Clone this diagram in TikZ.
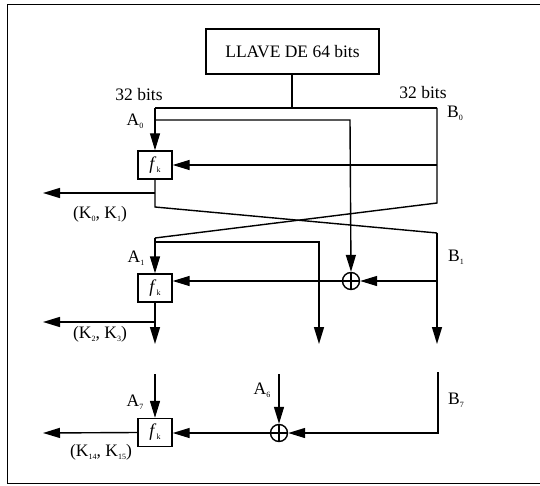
\documentclass[tikz,border=0pt]{standalone}
\usepackage{fontspec}
\setmainfont{Liberation Serif}
\usetikzlibrary{arrows.meta}
\newcommand\mysub[1]{\raisebox{-0.35ex}{\fontsize{8}{8}\selectfont #1}}
\begin{document}
\begin{tikzpicture}[x=1pt,y=-1pt, line width=1.4pt,
  arr/.style={-{Triangle[length=17pt,width=10pt]}},
  fbox/.style={draw, minimum width=34pt, minimum height=28pt, inner sep=0pt, font=\fontsize{18}{20}\selectfont},
  xor/.style={draw, circle, minimum size=17pt, inner sep=0pt},
  lbl/.style={font=\fontsize{17.5}{20}\selectfont, inner sep=0pt}]
\useasboundingbox (0,0) rectangle (540,486);
% frame
\draw[line width=1pt] (540,5) -- (7,5) -- (7,483) -- (540,483);
% key box
\node[draw, lbl, minimum width=173pt, minimum height=45pt] (key) at (292.5,51.5) {LLAVE DE 64 bits};
% f boxes
\node[fbox] (f1) at (155,165) {\textit{f}\mysub{k}};
\node[fbox] (f2) at (155,288) {\textit{f}\mysub{k}};
\node[fbox] (f3) at (155,432.5) {\textit{f}\mysub{k}};
% xor
\node[xor] (x1) at (351,281) {};
\draw (x1.north) -- (x1.south) (x1.west) -- (x1.east);
\node[xor] (x3) at (279,433) {};
\draw (x3.north) -- (x3.south) (x3.west) -- (x3.east);
% coordinates
\coordinate (jt) at (292,108);
\coordinate (L0) at (155,108);
\coordinate (R0) at (437,108);
\coordinate (i0) at (155,120);
\coordinate (i0r) at (350,120);
\coordinate (fe1) at (437,165);
\coordinate (k0) at (155,193);
\coordinate (k0e) at (43,193);
\coordinate (cl) at (155,207);
\coordinate (cr) at (437,203);
\coordinate (A1) at (155,238);
\coordinate (B1) at (437,233);
\coordinate (i1) at (155,242);
\coordinate (i1r) at (319,242);
\coordinate (m1) at (319,344);
\coordinate (b1e) at (437,344);
\coordinate (a1e) at (155,344);
\coordinate (bx) at (437,281);
\coordinate (k2) at (155,322);
\coordinate (k2e) at (43,322);
\coordinate (a7) at (155,374);
\coordinate (a6) at (279,374);
\coordinate (b7) at (438,372);
\coordinate (b7c) at (438,433);
\coordinate (k14e) at (43,433);
% connectors
\draw (key.south -| jt) -- (jt);
\draw (L0) -- (R0);
\draw[arr] (L0) -- (f1.north);
\draw[arr] (i0) -- (i0r) -- (x1.north);
\draw[arr] (fe1) -- (f1.east);
\draw (R0) -- (cr) -- (A1);
\draw[arr] (A1) -- (f2.north);
\draw (f1.south) -- (cl) -- (B1);
\draw[arr] (B1) -- (b1e);
\draw[arr] (k0) -- (k0e);
\draw[arr] (i1) -- (i1r) -- (m1);
\draw[arr] (bx) -- (x1.east);
\draw[arr] (x1.west) -- (x1.west -| f2.east);
\draw[arr] (f2.south) -- (a1e);
\draw[arr] (k2) -- (k2e);
\draw[arr] (a7) -- (f3.north);
\draw[arr] (a6) -- (x3.north);
\draw[arr] (b7) -- (b7c) -- (x3.east);
\draw[arr] (x3.west) -- (x3.west -| f3.east);
\draw[arr] (f3.west) -- (k14e);
% labels
\node[lbl] (t32l) at (139,95) {32 bits};
\node[lbl] (t32r) at (423,93) {32 bits};
\node[lbl] (lA0) at (135,121) {A\mysub{0}};
\node[lbl] (lB0) at (455,113) {B\mysub{0}};
\node[lbl] (lA1) at (136,258) {A\mysub{1}};
\node[lbl] (lB1) at (456,257) {B\mysub{1}};
\node[lbl] (lA7) at (135,402) {A\mysub{7}};
\node[lbl] (lA6) at (262,390) {A\mysub{6}};
\node[lbl] (lB7) at (456,400) {B\mysub{7}};
\node[lbl] (lk0) at (100,214) {(K\mysub{0}, K\mysub{1})};
\node[lbl] (lk2) at (100,334) {(K\mysub{2}, K\mysub{3})};
\node[lbl] (lk14) at (101,452) {(K\mysub{14}, K\mysub{15})};
\end{tikzpicture}
\end{document}
